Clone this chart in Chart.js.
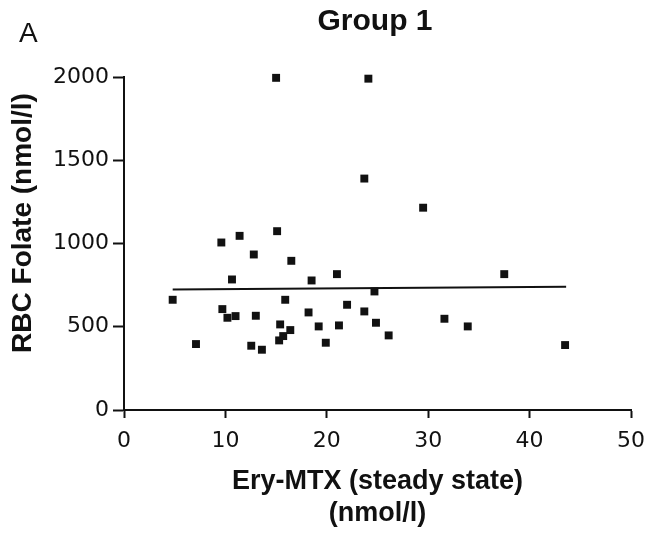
<!DOCTYPE html>
<html>
<head>
<meta charset="utf-8">
<script src="https://cdn.jsdelivr.net/npm/chart.js@4/dist/chart.umd.min.js"></script>
<style>
  body { margin: 0; background: #fff; }
  #wrap { width: 660px; height: 533px; }
</style>
</head>
<body>
<div id="wrap"><canvas id="chart" width="660" height="533"></canvas></div>
<script>
// Ery-MTX (x) vs RBC folate (y), group 1
const eryMtx = [4.8, 7.1, 9.6, 9.7, 10.2, 10.65, 11.0, 11.4, 12.55, 12.8, 13.0, 13.6, 15.0, 15.1, 15.3, 15.4, 15.7, 15.9, 16.4, 16.5,
  18.2, 18.5, 19.2, 19.9, 21.0, 21.2, 22.0, 23.7, 23.7, 24.1, 24.7, 24.85, 26.1, 29.5, 31.6, 33.9, 37.5, 43.5];
const rbcFolate = [662, 396, 1006, 606, 554, 784, 564, 1046, 386, 934, 566, 362, 1995, 1074, 418, 514, 444, 662, 480, 896,
  586, 778, 502, 404, 816, 508, 632, 592, 1390, 1990, 712, 524, 448, 1215, 548, 502, 816, 390];

// fitted line end points
const fitX = [4.8, 43.6];
const fitY = [724, 740];

const xTicks = [0, 10, 20, 30, 40, 50];
const yTicks = [0, 500, 1000, 1500, 2000];

const ink = "#111";

const textPlugin = {
  id: "texts",
  afterDraw(chart) {
    const ctx = chart.ctx;
    ctx.save();
    ctx.fillStyle = ink;
    ctx.textBaseline = "alphabetic";
    ctx.textAlign = "left";
    ctx.font = "28px 'Liberation Sans', Arial, sans-serif";
    ctx.fillText("A", 19, 42);
    ctx.textAlign = "center";
    ctx.font = "bold 30px 'Liberation Sans', Arial, sans-serif";
    ctx.fillText("Group 1", 375, 30);
    // y axis title
    ctx.translate(23, 223);
    ctx.rotate(-Math.PI / 2);
    ctx.textBaseline = "middle";
    ctx.font = "bold 28px 'Liberation Sans', Arial, sans-serif";
    ctx.fillText("RBC Folate (nmol/l)", 0, 0);
    ctx.restore();
  }
};

new Chart(document.getElementById("chart").getContext("2d"), {
  type: "scatter",
  data: {
    datasets: [
      {
        data: eryMtx.map((x, i) => ({ x: x, y: rbcFolate[i] })),
        pointStyle: "rect",
        pointRadius: 5.6,
        backgroundColor: ink,
        borderColor: ink,
        borderWidth: 0,
        clip: false
      },
      {
        type: "line",
        data: fitX.map((x, i) => ({ x: x, y: fitY[i] })),
        borderColor: ink,
        borderWidth: 2,
        pointRadius: 0,
        fill: false
      }
    ]
  },
  options: {
    responsive: false,
    animation: false,
    devicePixelRatio: 1,
    layout: { padding: { left: 0, right: 29, top: 77, bottom: 0 } },
    plugins: {
      legend: { display: false },
      tooltip: { enabled: false }
    },
    scales: {
      x: {
        type: "linear",
        min: 0,
        max: 50,
        afterFit(scale) { scale.height = 123; },
        afterBuildTicks(scale) { scale.ticks = xTicks.map(v => ({ value: v })); },
        grid: { drawOnChartArea: false, tickLength: 8, tickWidth: 2, tickColor: ink },
        border: { display: true, color: ink, width: 2 },
        ticks: {
          color: ink,
          padding: 10,
          maxRotation: 0,
          callback: v => String(v),
          font: { family: "'DejaVu Sans', sans-serif", size: 22 }
        },
        title: {
          display: true,
          text: ["Ery-MTX (steady state)", "(nmol/l)"],
          color: ink,
          padding: { top: 0, bottom: 3 },
          font: { family: "'Liberation Sans', Arial, sans-serif", size: 27, weight: "bold", lineHeight: 1.2 }
        }
      },
      y: {
        type: "linear",
        min: 0,
        max: 2000,
        afterFit(scale) { scale.width = 124; },
        afterBuildTicks(scale) { scale.ticks = yTicks.map(v => ({ value: v })); },
        grid: { drawOnChartArea: false, tickLength: 11, tickWidth: 2, tickColor: ink },
        border: { display: true, color: ink, width: 2 },
        ticks: {
          color: ink,
          padding: 4,
          callback: v => String(v),
          font: { family: "'DejaVu Sans', sans-serif", size: 22 }
        }
      }
    }
  },
  plugins: [textPlugin]
});
</script>
</body>
</html>
